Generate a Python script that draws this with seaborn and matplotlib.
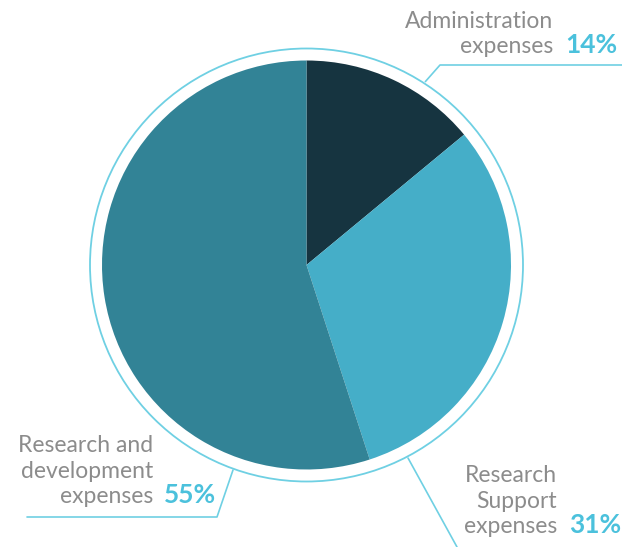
import matplotlib
matplotlib.use("Agg")
import matplotlib.pyplot as plt
import seaborn as sns
from matplotlib.patches import Circle

categories = ["Administration\nexpenses", "Research\nSupport\nexpenses", "Research and\ndevelopment\nexpenses"]
shares = [14, 31, 55]
pct_labels = ["14%", "31%", "55%"]
colors = ["#163440", "#45AEC8", "#328396"]

sns.set_theme(style="white")
plt.rcParams['font.family'] = ['Lato', 'DejaVu Sans']

W, H = 622, 547
fig = plt.figure(figsize=(W / 100, H / 100), dpi=100)
ax = fig.add_axes([0, 0, 1, 1])
ax.set_xlim(0, W)
ax.set_ylim(0, H)
ax.set_aspect('equal')
ax.axis('off')

cx, cy = 306.5, H - 265
R = 204.5
ax.pie(shares, colors=colors, startangle=90, counterclock=False,
       center=(cx, cy), radius=R, frame=True,
       wedgeprops=dict(linewidth=0))
ax.set_xlim(0, W)
ax.set_ylim(0, H)
ax.axis('off')
ax.add_patch(Circle((cx, cy), 216.5, fill=False, edgecolor="#6FD0E3", linewidth=1.3))

line_c = "#6FD0E3"
gray = "#8C8C8C"
pct_c = "#4BC1DC"

def Y(y):
    return H - y

# Leader lines
ax.plot([425, 440, 622], [Y(82), Y(65), Y(65)], color=line_c, lw=1.2, solid_capstyle='butt')
ax.plot([408, 457], [Y(458), Y(547)], color=line_c, lw=1.2)
ax.plot([233, 217, 27], [Y(470), Y(517), Y(517)], color=line_c, lw=1.2)

fs = 16.5
pfs = 19
ls = 1.25
# Administration
ax.text(553, Y(53), categories[0], ha='right', va='baseline', fontsize=fs,
        color=gray, fontweight='normal', linespacing=ls)
ax.text(565, Y(53), pct_labels[0], ha='left', va='baseline', fontsize=pfs,
        color=pct_c, fontweight='bold')
# Research Support
ax.text(557, Y(533), categories[1], ha='right', va='baseline', fontsize=fs,
        color=gray, fontweight='normal', linespacing=ls)
ax.text(569, Y(533), pct_labels[1], ha='left', va='baseline', fontsize=pfs,
        color=pct_c, fontweight='bold')
# R&D
ax.text(153, Y(503), categories[2], ha='right', va='baseline', fontsize=fs,
        color=gray, fontweight='normal', linespacing=ls)
ax.text(164, Y(503), pct_labels[2], ha='left', va='baseline', fontsize=pfs,
        color=pct_c, fontweight='bold')

fig.savefig("out.png", dpi=100)
